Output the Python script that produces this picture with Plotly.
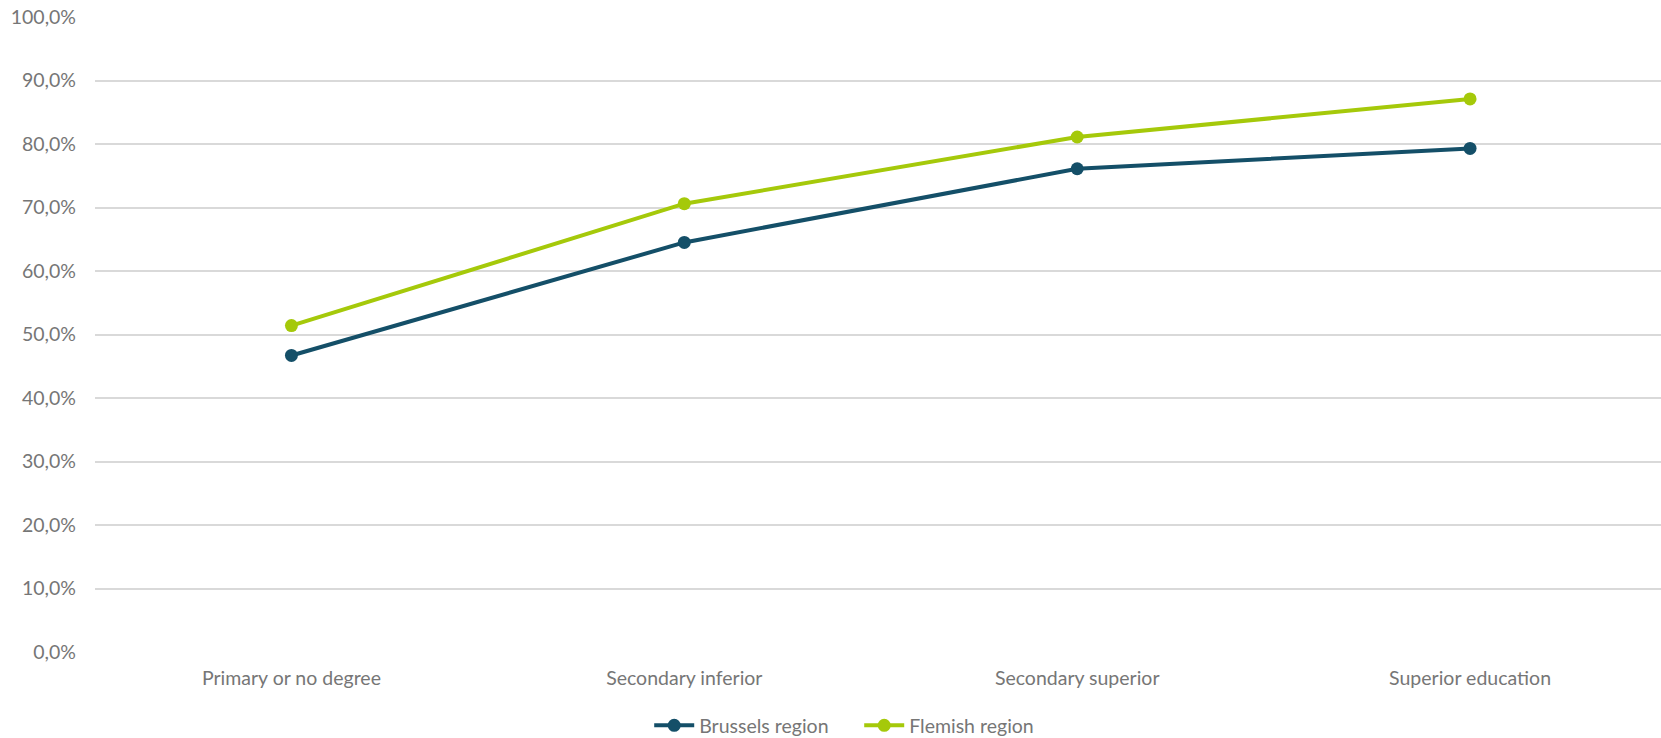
import plotly.graph_objects as go

categories = ["Primary or no degree", "Secondary inferior", "Secondary superior", "Superior education"]
brussels = [0.467, 0.645, 0.761, 0.793]
flemish = [0.514, 0.706, 0.811, 0.871]

BRUSSELS_COLOR = "#144f68"
FLEMISH_COLOR = "#a5c90a"
TEXT_COLOR = "#767676"
GRID_COLOR = "#d9d9d9"
FONT = "Lato, 'Open Sans', sans-serif"
FONT_SIZE = 19.5

fig = go.Figure()
fig.add_trace(go.Scatter(
    x=categories, y=brussels, name="Brussels region", mode="lines+markers",
    line=dict(color=BRUSSELS_COLOR, width=4),
    marker=dict(color=BRUSSELS_COLOR, size=13),
))
fig.add_trace(go.Scatter(
    x=categories, y=flemish, name="Flemish region", mode="lines+markers",
    line=dict(color=FLEMISH_COLOR, width=4),
    marker=dict(color=FLEMISH_COLOR, size=13),
))

fig.update_layout(
    width=1661, height=738,
    margin=dict(l=95, r=0, t=17, b=86, autoexpand=False),
    paper_bgcolor="white", plot_bgcolor="white",
    separators=",.",
    font=dict(family=FONT, size=FONT_SIZE, color=TEXT_COLOR),
    showlegend=True,
    legend=dict(
        orientation="h", x=0.488, xanchor="center", y=-0.116, yanchor="middle",
        font=dict(family=FONT, size=FONT_SIZE, color=TEXT_COLOR),
        itemwidth=40, tracegroupgap=0,
        entrywidth=155, entrywidthmode="pixels",
    ),
    xaxis=dict(
        type="category", range=[-0.5, 3.486], automargin=False,
        showgrid=False, zeroline=False, showline=False,
        ticks="", ticklabelstandoff=12,
        tickfont=dict(family=FONT, size=FONT_SIZE, color=TEXT_COLOR),
    ),
    yaxis=dict(
        range=[0, 1.0], dtick=0.1, tickformat=".1%", automargin=False,
        showgrid=True, gridcolor=GRID_COLOR, gridwidth=1.5,
        zeroline=False, showline=False, ticks="",
        ticklabelstandoff=18,
        tickfont=dict(family=FONT, size=FONT_SIZE, color=TEXT_COLOR),
    ),
)

fig.write_html("out.html")
